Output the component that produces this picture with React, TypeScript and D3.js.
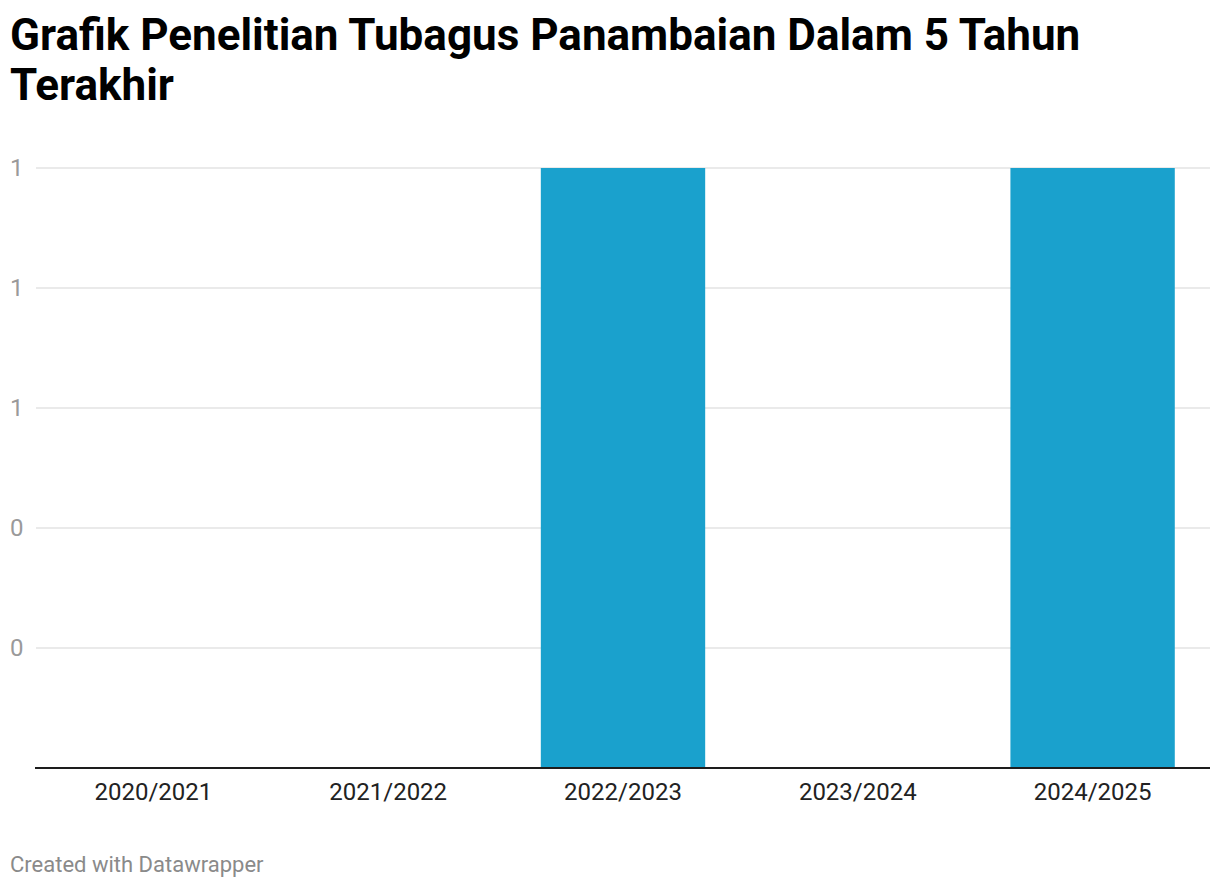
import React from "react";
import * as d3 from "d3";

const categories = ["2020/2021", "2021/2022", "2022/2023", "2023/2024", "2024/2025"];
const values = [0, 0, 1, 0, 1];
const yTickValues = [0.2, 0.4, 0.6, 0.8, 1];
const yTickLabels = ["0", "0", "1", "1", "1"];
const titleLines = ["Grafik Penelitian Tubagus Panambaian Dalam 5 Tahun", "Terakhir"];
const footer = "Created with Datawrapper";

const W = 1220;
const H = 888;
const left = 36;
const right = 1210;
const top = 168;
const bottom = 768;

export default function App() {
  const x = d3.scaleBand<string>().domain(categories).range([left, right]).paddingInner(0.3).paddingOuter(0.15);
  const y = d3.scaleLinear().domain([0, 1]).range([bottom, top]);
  const font = "Roboto, 'Noto Sans', sans-serif";
  return (
    <svg width={W} height={H} style={{ position: "absolute", left: 0, top: 0, background: "#fff" }} fontFamily={font}>
      <rect x={0} y={0} width={W} height={H} fill="#fff" />
      {titleLines.map((t, i) => (
        <text key={i} x={10} y={50 + i * 50} fontSize={44} fontWeight={700} fill="#000">{t}</text>
      ))}
      {yTickValues.map((v, i) => (
        <g key={i}>
          <line x1={left} x2={right} y1={y(v)} y2={y(v)} stroke="#e3e3e3" strokeWidth={1.5} />
          <text x={10} y={y(v)} dy="0.35em" fontSize={24} fill="#9a9a9a">{yTickLabels[i]}</text>
        </g>
      ))}
      {categories.map((c, i) => (
        values[i] > 0 ? (
          <rect key={c} x={x(c)} y={y(values[i])} width={x.bandwidth()} height={y(0) - y(values[i])} fill="#1aa1cd" />
        ) : null
      ))}
      <line x1={left - 1} x2={right} y1={y(0)} y2={y(0)} stroke="#1d1d1d" strokeWidth={2} />
      {categories.map((c) => (
        <text key={c} x={(x(c) as number) + x.bandwidth() / 2} y={800} textAnchor="middle" fontSize={24} fill="#222">{c}</text>
      ))}
      <text x={10} y={872} fontSize={22} fill="#8a8a8a">{footer}</text>
    </svg>
  );
}
